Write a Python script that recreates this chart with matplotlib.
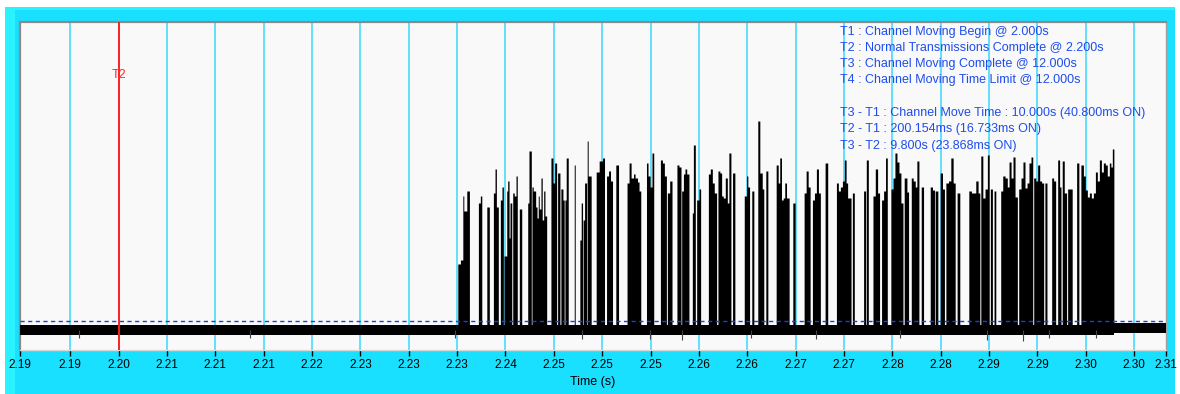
import matplotlib
matplotlib.use("Agg")
import matplotlib.pyplot as plt
from matplotlib.patches import Rectangle

plt.rcParams['font.family'] = ['Liberation Sans', 'DejaVu Sans']

# ---------------- data ----------------
x_min, x_max = 2.1898, 2.3083
y_min, y_max = -2.0, 30.8

tick_vals = [2.1898, 2.195, 2.200, 2.205, 2.210, 2.215, 2.220, 2.225, 2.230,
             2.235, 2.240, 2.245, 2.250, 2.255, 2.260, 2.265, 2.270, 2.275,
             2.280, 2.285, 2.290, 2.295, 2.300, 2.305, 2.3083]
tick_labels = ["2.19", "2.19", "2.20", "2.21", "2.21", "2.21", "2.22", "2.23",
               "2.23", "2.23", "2.24", "2.25", "2.25", "2.25", "2.26", "2.26",
               "2.27", "2.27", "2.28", "2.28", "2.29", "2.29", "2.30", "2.30",
               "2.31"]

t2_time = 2.200
threshold = 0.9

# baseline noise band
base_t = [2.1898, 2.3029, 2.3083]
base_low = [-0.5, -0.3, -0.3]
base_high = [0.5, 0.7, 0.7]

# burst envelope (segment start times, top level; 0 = back to baseline)
burst_t = [
    2.19000, 2.23507, 2.23534, 2.23559, 2.23569, 2.23600, 2.23627, 2.23720, 2.23740, 2.23755,
    2.23807, 2.23833, 2.23875, 2.23892, 2.23906, 2.23926, 2.23947, 2.23964, 2.23978, 2.23985,
    2.24013, 2.24023, 2.24037, 2.24047, 2.24065, 2.24075, 2.24091, 2.24109, 2.24122, 2.24143,
    2.24168, 2.24230, 2.24243, 2.24267, 2.24274, 2.24287, 2.24312, 2.24326, 2.24339, 2.24349,
    2.24367, 2.24380, 2.24395, 2.24408, 2.24426, 2.24470, 2.24491, 2.24508, 2.24529, 2.24539,
    2.24563, 2.24573, 2.24594, 2.24607, 2.24615, 2.24628, 2.24649, 2.24711, 2.24721, 2.24769,
    2.24783, 2.24797, 2.24803, 2.24818, 2.24839, 2.24845, 2.24855, 2.24886, 2.24938, 2.24969,
    2.25004, 2.25024, 2.25045, 2.25066, 2.25086, 2.25107, 2.25141, 2.25169, 2.25257, 2.25278,
    2.25299, 2.25324, 2.25340, 2.25365, 2.25381, 2.25399, 2.25458, 2.25474, 2.25495, 2.25515,
    2.25533, 2.25602, 2.25623, 2.25643, 2.25664, 2.25674, 2.25698, 2.25722, 2.25773, 2.25794,
    2.25815, 2.25822, 2.25840, 2.25856, 2.25874, 2.25897, 2.25932, 2.25943, 2.25963, 2.25977,
    2.26001, 2.26018, 2.26098, 2.26118, 2.26139, 2.26159, 2.26183, 2.26197, 2.26217, 2.26235,
    2.26252, 2.26273, 2.26294, 2.26310, 2.26331, 2.26348, 2.26372, 2.26469, 2.26493, 2.26506,
    2.26524, 2.26547, 2.26568, 2.26609, 2.26630, 2.26655, 2.26671, 2.26692, 2.26713, 2.26799,
    2.26820, 2.26836, 2.26854, 2.26872, 2.26888, 2.26906, 2.26933, 2.26971, 2.26995, 2.27088,
    2.27109, 2.27130, 2.27150, 2.27174, 2.27195, 2.27215, 2.27236, 2.27256, 2.27305, 2.27332,
    2.27422, 2.27442, 2.27463, 2.27484, 2.27504, 2.27522, 2.27538, 2.27573, 2.27587, 2.27607,
    2.27703, 2.27724, 2.27731, 2.27752, 2.27800, 2.27824, 2.27848, 2.27868, 2.27889, 2.27910,
    2.27930, 2.27948, 2.27986, 2.28007, 2.28027, 2.28048, 2.28069, 2.28089, 2.28110, 2.28123,
    2.28151, 2.28168, 2.28196, 2.28216, 2.28237, 2.28254, 2.28275, 2.28299, 2.28323, 2.28392,
    2.28415, 2.28436, 2.28443, 2.28471, 2.28495, 2.28519, 2.28539, 2.28554, 2.28581, 2.28605,
    2.28629, 2.28650, 2.28670, 2.28698, 2.28791, 2.28818, 2.28863, 2.28887, 2.28905, 2.28915,
    2.28936, 2.28959, 2.28983, 2.29001, 2.29014, 2.29035, 2.29052, 2.29070, 2.29121, 2.29142,
    2.29166, 2.29189, 2.29207, 2.29228, 2.29248, 2.29269, 2.29293, 2.29307, 2.29331, 2.29351,
    2.29372, 2.29393, 2.29413, 2.29434, 2.29452, 2.29462, 2.29483, 2.29503, 2.29524, 2.29544,
    2.29565, 2.29578, 2.29599, 2.29648, 2.29668, 2.29689, 2.29710, 2.29730, 2.29744, 2.29757,
    2.29778, 2.29802, 2.29813, 2.29860, 2.29906, 2.29929, 2.29950, 2.29976, 2.29996, 2.30017,
    2.30038, 2.30058, 2.30079, 2.30100, 2.30120, 2.30141, 2.30162, 2.30182, 2.30203, 2.30223,
    2.30244, 2.30260, 2.30275, 2.30291, 2.30830,
]
burst_level = [
    0.0, 6.6, 7.0, 13.4, 11.9, 13.9, 0.0, 12.7, 13.4, 0.0,
    12.3, 0.0, 13.7, 16.1, 12.3, 0.0, 13.0, 14.3, 0.0, 7.4,
    13.9, 14.9, 9.2, 12.7, 0.0, 13.7, 13.4, 15.4, 0.0, 12.1,
    0.0, 12.7, 17.9, 0.0, 14.3, 13.9, 12.3, 11.2, 13.4, 12.1,
    15.2, 11.0, 13.9, 11.4, 0.0, 17.2, 14.7, 16.7, 0.0, 15.7,
    0.0, 14.1, 13.0, 0.0, 13.0, 17.2, 0.0, 16.5, 0.0, 9.0,
    12.7, 0.0, 11.0, 14.7, 0.0, 18.9, 15.4, 0.0, 15.8, 16.9,
    17.2, 0.0, 15.4, 15.9, 14.9, 0.0, 16.5, 0.0, 14.7, 16.7,
    15.2, 15.6, 15.2, 14.8, 13.9, 0.0, 16.7, 15.4, 14.3, 17.7,
    0.0, 17.0, 16.7, 15.4, 0.0, 13.7, 14.9, 0.0, 16.5, 16.3,
    0.0, 13.9, 15.6, 16.1, 15.6, 0.0, 11.7, 18.5, 0.0, 13.0,
    14.1, 0.0, 15.6, 16.1, 14.7, 13.7, 0.0, 15.9, 15.7, 13.4,
    13.2, 15.2, 12.7, 17.7, 0.0, 15.7, 0.0, 13.4, 15.4, 14.3,
    0.0, 13.9, 0.0, 20.9, 15.7, 14.1, 0.0, 15.9, 0.0, 16.5,
    14.7, 17.2, 13.0, 13.2, 14.7, 13.2, 0.0, 12.7, 0.0, 13.7,
    15.9, 14.3, 0.0, 13.0, 13.7, 16.1, 13.7, 0.0, 16.7, 0.0,
    14.7, 13.9, 14.3, 14.9, 17.0, 14.7, 13.2, 0.0, 13.7, 0.0,
    13.9, 0.0, 17.0, 0.0, 13.4, 16.1, 13.7, 0.0, 13.0, 13.9,
    17.2, 0.0, 14.1, 15.2, 17.7, 16.8, 15.7, 12.7, 0.0, 15.2,
    13.8, 0.0, 15.2, 14.9, 14.3, 16.9, 0.0, 14.3, 0.0, 14.3,
    14.0, 0.0, 13.9, 0.0, 15.7, 14.1, 0.0, 14.7, 14.9, 17.2,
    14.7, 0.0, 13.7, 0.0, 13.9, 13.7, 14.9, 13.7, 0.0, 17.4,
    13.2, 14.1, 17.5, 0.0, 14.1, 0.0, 13.9, 0.0, 13.9, 15.4,
    15.2, 14.3, 16.8, 15.2, 17.3, 13.3, 0.0, 14.1, 15.2, 16.8,
    14.2, 14.7, 16.7, 17.3, 0.0, 15.2, 14.9, 16.5, 14.9, 14.7,
    0.0, 14.7, 0.0, 15.2, 14.9, 0.0, 17.0, 14.3, 0.0, 16.9,
    13.7, 0.0, 14.1, 0.0, 16.7, 0.0, 16.5, 15.4, 14.0, 13.3,
    13.7, 13.2, 13.7, 15.8, 14.9, 17.0, 15.8, 16.7, 16.5, 15.4,
    16.7, 16.3, 18.1, 0.0, 0.0,
]

# small downward noise glitches on the baseline
glitch_t = [2.1959, 2.2136, 2.2348, 2.2479, 2.2549, 2.2583, 2.2654, 2.2721,
            2.2808, 2.2898, 2.2935, 2.2962, 2.3011]
glitch_low = [-0.8, -0.8, -0.8, -0.9, -0.9, -1.0, -0.8, -0.9,
              -0.8, -1.0, -1.1, -0.8, -0.8]

annot_lines = [
    "T1 : Channel Moving Begin @ 2.000s",
    "T2 : Normal Transmissions Complete @ 2.200s",
    "T3 : Channel Moving Complete @ 12.000s",
    "T4 : Channel Moving Time Limit @ 12.000s",
    "",
    "T3 - T1 : Channel Move Time : 10.000s (40.800ms ON)",
    "T2 - T1 : 200.154ms (16.733ms ON)",
    "T3 - T2 : 9.800s (23.868ms ON)",
]

# ---------------- figure ----------------
W, H = 1180, 394
fig = plt.figure(figsize=(W / 100, H / 100), dpi=100, facecolor="white")

# cyan frame (behind the axes)
frame_kw = dict(transform=fig.transFigure, edgecolor="none", zorder=-10)
fig.add_artist(Rectangle((5 / W, 0), 1170 / W, (H - 7) / H, facecolor="#19E0FF", **frame_kw))
fig.add_artist(Rectangle((5 / W, 0), 10 / W, (H - 7) / H, facecolor="#2AF2FF", **frame_kw))
fig.add_artist(Rectangle((5 / W, (H - 10) / H), 1170 / W, 3 / H, facecolor="#2AF2FF", **frame_kw))

ax = fig.add_axes([20 / W, (H - 350) / H, 1146 / W, 328 / H])
ax.set_zorder(5)
ax.set_facecolor("#F9F9F9")
ax.set_xlim(x_min, x_max)
ax.set_ylim(y_min, y_max)

# grid
for tv in tick_vals[1:-1]:
    ax.axvline(tv, color="#55DDFF", lw=1.3, zorder=1)

# baseline band
ax.fill_between(base_t, base_low, base_high, step="post", color="black", lw=0, zorder=3)
# burst
ax.fill_between(burst_t, 0, burst_level, step="post", color="black", lw=0, zorder=3)
# glitches
ax.vlines(glitch_t, glitch_low, 0, color="#444444", lw=0.8, zorder=3)

# threshold
ax.axhline(threshold, color="#1A3FE0", lw=1.0, ls=(0, (3, 2.5)), zorder=4)

# T2 cursor
ax.axvline(t2_time, color="#FF2020", lw=1.4, zorder=5)
ax.text(t2_time, 25.5, "T2", color="#FF2A2A", fontsize=9, ha="center", va="center", zorder=6)

# annotation text
y0 = (350 - 31.5) / 328
dy = 16.3 / 328
for i, line in enumerate(annot_lines):
    if line:
        ax.text((840 - 20) / 1146, y0 - i * dy, line, transform=ax.transAxes,
                color="#1F4DEB", fontsize=9, ha="left", va="center", zorder=7)

# axes style
for side in ["top", "left"]:
    ax.spines[side].set_color("#8A8A8A")
    ax.spines[side].set_linewidth(1.6)
ax.spines["right"].set_color("#A0A0A0")
ax.spines["right"].set_linewidth(1.0)
ax.spines["bottom"].set_color("#D8D8D8")
ax.spines["bottom"].set_linewidth(1.0)

ax.set_yticks([])
ax.set_xticks(tick_vals)
ax.set_xticklabels(tick_labels, fontsize=8.5)
ax.tick_params(axis="x", direction="out", length=4, width=1, color="black", pad=2.5,
               labelcolor="black")
ax.set_xlabel("Time (s)", fontsize=9, labelpad=3.5)

fig.savefig("out.png", dpi=100, facecolor=fig.get_facecolor())
